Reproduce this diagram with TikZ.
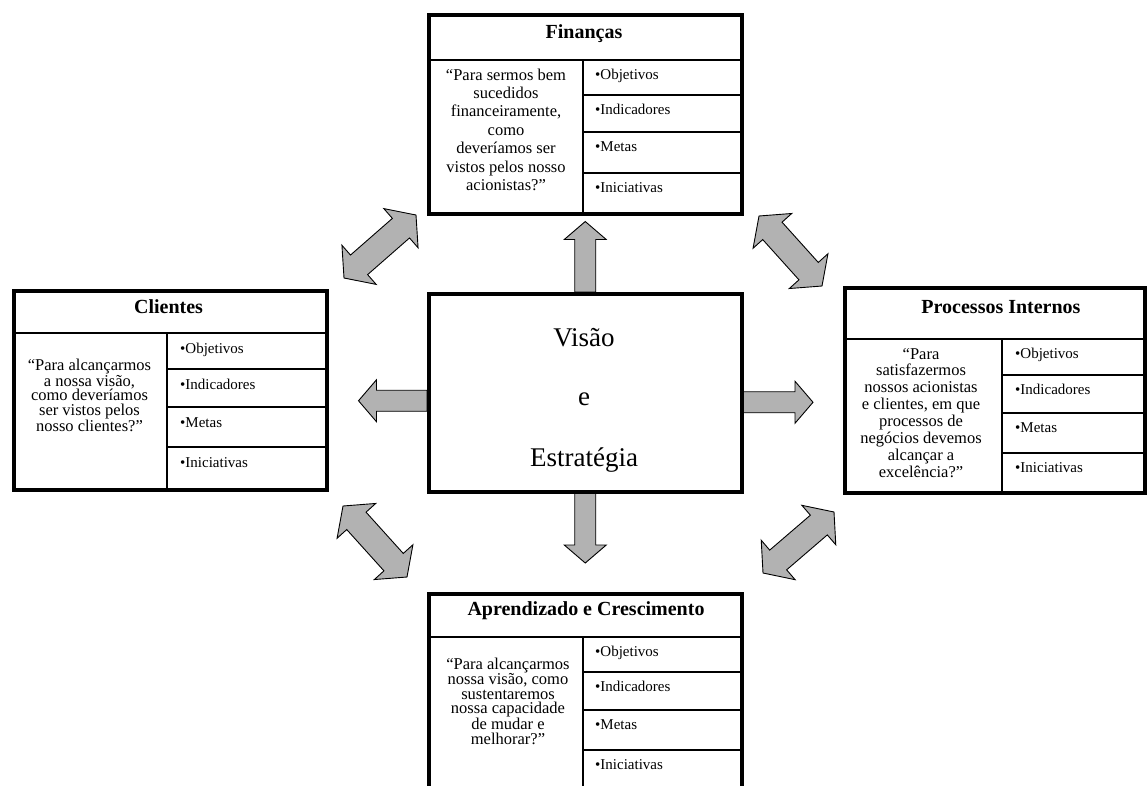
\documentclass[tikz,border=0pt]{standalone}
\usepackage{fontspec}
\setmainfont{Liberation Serif}
\usetikzlibrary{calc,backgrounds}
\definecolor{arrowgray}{HTML}{B2B2B2}
\tikzset{
  outer/.style={draw, line width=3.5pt, inner sep=0pt, anchor=north west},
  inner/.style={line width=1.3pt},
  ttl/.style={font=\bfseries\fontsize{20}{24}\selectfont, anchor=base, inner sep=0pt},
  bul/.style={font=\fontsize{15}{18}\selectfont, anchor=base west, inner sep=0pt},
  qst/.style={font=\fontsize{16.5}{#1}\selectfont, align=center, anchor=base, inner sep=0pt},
  big/.style={font=\fontsize{27}{32}\selectfont, anchor=base, inner sep=0pt},
  blk/.style={draw=black, line width=0.9pt, fill=arrowgray, line join=miter},
}
\newcommand{\dblarrow}[2]{%
  \coordinate (ha) at ($(#1)!20pt!(#2)$);
  \coordinate (hb) at ($(#2)!20pt!(#1)$);
  \draw[blk] (#1) -- ($(ha)!26pt!90:(#2)$) -- ($(ha)!13pt!90:(#2)$)
    -- ($(hb)!13pt!-90:(#1)$) -- ($(hb)!26pt!-90:(#1)$) -- (#2)
    -- ($(hb)!26pt!90:(#1)$) -- ($(hb)!13pt!90:(#1)$)
    -- ($(ha)!13pt!-90:(#2)$) -- ($(ha)!26pt!-90:(#2)$) -- cycle;}
\newcommand{\sglarrow}[2]{%
  \coordinate (hs) at ($(#2)!18pt!(#1)$);
  \draw[blk] ($(#1)!10.5pt!90:(#2)$) -- ($(hs)!10.5pt!90:(#2)$)
    -- ($(hs)!21pt!90:(#2)$) -- (#2) -- ($(hs)!21pt!-90:(#2)$)
    -- ($(hs)!10.5pt!-90:(#2)$) -- ($(#1)!10.5pt!-90:(#2)$) -- cycle;}
\begin{document}
\begin{tikzpicture}[x=1pt,y=-1pt]
\useasboundingbox (0,0) rectangle (1147,785);
\clip (0,0) rectangle (1147,785);

% ---------- Finanças ----------
\node[outer, minimum width=313pt, minimum height=199pt] (fin) at (427,13) {};
\draw[inner] (427,60) -- (740,60);
\draw[inner] (583,60) -- (583,212);
\foreach \y in {95,132,173} \draw[inner] (583,\y) -- (740,\y);
\node[ttl] (fint) at (584,38) {Finanças};
\node[qst=18.4] (finq) at (506,190.4) {“Para sermos bem\\sucedidos\\financeiramente,\\como\\deveríamos ser\\vistos pelos nosso\\acionistas?”};
\node[bul] (fin1) at (595,79.5) {•Objetivos};
\node[bul] (fin2) at (595,114.5) {•Indicadores};
\node[bul] (fin3) at (595,151.5) {•Metas};
\node[bul] (fin4) at (595,192.5) {•Iniciativas};

% ---------- Clientes ----------
\node[outer, minimum width=313pt, minimum height=199pt] (cli) at (12,289) {};
\draw[inner] (12,333) -- (325,333);
\draw[inner] (167,333) -- (167,488);
\foreach \y in {369,407,447} \draw[inner] (167,\y) -- (325,\y);
\node[ttl] (clit) at (168.5,313) {Clientes};
\node[qst=14.5] (cliq) at (89.5,431) {“Para alcançarmos\\a nossa visão,\\como deveríamos\\ser vistos pelos\\nosso clientes?”};
\node[bul] (cli1) at (180,353.5) {•Objetivos};
\node[bul] (cli2) at (180,389.5) {•Indicadores};
\node[bul] (cli3) at (180,427.5) {•Metas};
\node[bul] (cli4) at (180,467.5) {•Iniciativas};

% ---------- Processos Internos ----------
\node[outer, minimum width=300pt, minimum height=205pt] (pro) at (843,286) {};
\draw[inner] (843,339) -- (1143,339);
\draw[inner] (1002,339) -- (1002,491);
\foreach \y in {375,413,453} \draw[inner] (1002,\y) -- (1143,\y);
\node[ttl] (prot) at (1001,313) {Processos Internos};
\node[qst=16.9] (proq) at (921,477.3) {“Para\\satisfazermos\\nossos acionistas\\e clientes, em que\\processos de\\negócios devemos\\alcançar a\\excelência?”};
\node[bul] (pro1) at (1015,358.5) {•Objetivos};
\node[bul] (pro2) at (1015,394.5) {•Indicadores};
\node[bul] (pro3) at (1015,432.5) {•Metas};
\node[bul] (pro4) at (1015,472.5) {•Iniciativas};

% ---------- Aprendizado e Crescimento ----------
\node[outer, minimum width=313pt, minimum height=210pt] (apr) at (427,592) {};
\draw[inner] (427,637) -- (740,637);
\draw[inner] (583,637) -- (583,802);
\foreach \y in {672,710,750} \draw[inner] (583,\y) -- (740,\y);
\node[ttl] (aprt) at (586,615) {Aprendizado e Crescimento};
\node[qst=14.4] (aprq) at (508,744) {“Para alcançarmos\\nossa visão, como\\sustentaremos\\nossa capacidade\\de mudar e\\melhorar?”};
\node[bul] (apr1) at (595,656.5) {•Objetivos};
\node[bul] (apr2) at (595,691.5) {•Indicadores};
\node[bul] (apr3) at (595,729.5) {•Metas};
\node[bul] (apr4) at (595,769.5) {•Iniciativas};

% ---------- Visão e Estratégia ----------
\node[outer, minimum width=313pt, minimum height=198pt] (vis) at (427,292) {};
\node[big] (vis1) at (584,346) {Visão};
\node[big] (vis2) at (584,405) {e};
\node[big] (vis3) at (584,466) {Estratégia};

% ---------- arrows ----------
\coordinate (ub) at (vis.north);
\coordinate (ut) at ($(fin.south)+(0,6)$);
\coordinate (db) at (vis.south);
\coordinate (dt) at ($(apr.north)+(0,-29)$);
\coordinate (lb) at ($(vis.west)+(0,8)$);
\coordinate (lt) at ($(cli.east |- lb)+(30,0)$);
\coordinate (rb) at ($(vis.east)+(0,9.5)$);
\coordinate (rt) at ($(pro.west |- rb)+(-30,0)$);
\coordinate (tl1) at (344,278);
\coordinate (tl2) at (416,215);
\coordinate (tr1) at (759,216);
\coordinate (tr2) at (822,286);
\coordinate (bl1) at (343,506);
\coordinate (bl2) at (407,577);
\coordinate (br1) at (763,573);
\coordinate (br2) at (834,512);
\begin{pgfonlayer}{background}
\sglarrow{ub}{ut}
\sglarrow{db}{dt}
\sglarrow{lb}{lt}
\sglarrow{rb}{rt}
\dblarrow{tl1}{tl2}
\dblarrow{tr1}{tr2}
\dblarrow{bl1}{bl2}
\dblarrow{br1}{br2}
\end{pgfonlayer}
\end{tikzpicture}
\end{document}
